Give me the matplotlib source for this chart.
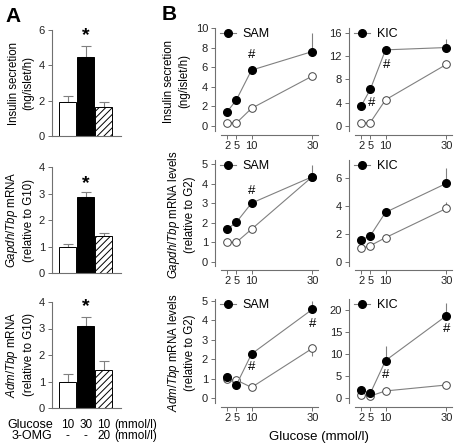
import numpy as np
import matplotlib
matplotlib.use('Agg')
import matplotlib.pyplot as plt

plt.rcParams['font.family'] = ['Liberation Sans', 'DejaVu Sans']
plt.rcParams['mathtext.fontset'] = 'custom'
plt.rcParams['mathtext.rm'] = 'Liberation Sans'
plt.rcParams['mathtext.it'] = 'Liberation Sans:italic'
plt.rcParams['hatch.linewidth'] = 0.7

# ---- panel A data (bars: G10, G30, G10+3-OMG) ----
a_insulin = [1.9, 4.45, 1.65]
a_insulin_err = [0.35, 0.65, 0.28]
a_gapdh = [1.0, 2.85, 1.38]
a_gapdh_err = [0.1, 0.22, 0.12]
a_adm = [1.0, 3.1, 1.42]
a_adm_err = [0.3, 0.35, 0.37]
a_star = [5.7, 3.38, 3.82]
glucose_row = ['10', '30', '10']
omg_row = ['-', '-', '20']

# ---- panel B data ----
glc = [2, 5, 10, 30]
sam_ins_f = [1.45, 2.65, 5.7, 7.6]
sam_ins_f_err = [0, 0.2, 0, 1.9]
sam_ins_o = [0.34, 0.3, 1.8, 5.1]
kic_ins_f = [3.45, 6.3, 13.1, 13.5]
kic_ins_f_err = [0, 0, 0.5, 1.5]
kic_ins_o = [0.46, 0.6, 4.5, 10.6]
sam_gap_f = [1.67, 2.02, 3.0, 4.35]
sam_gap_f_err = [0, 0, 0, 0.6]
sam_gap_o = [1.0, 1.0, 1.67, 4.35]
kic_gap_f = [1.57, 1.88, 3.55, 5.62]
kic_gap_f_err = [0, 0, 0, 1.1]
kic_gap_o = [0.98, 1.17, 1.74, 3.83]
kic_gap_o_err = [0, 0, 0, 0.47]
sam_adm_f = [1.07, 0.67, 2.27, 4.57]
sam_adm_f_err = [0, 0, 0, 0.45]
sam_adm_o = [0.98, 0.93, 0.55, 2.56]
sam_adm_o_err = [0, 0, 0, -0.4]
kic_adm_f = [1.8, 1.06, 8.5, 18.7]
kic_adm_f_err = [0, 0, 3.3, 2.8]
kic_adm_o = [0.7, 0.45, 1.6, 2.95]

W, H = 457, 448
fig = plt.figure(figsize=(W / 100, H / 100), dpi=100)

GRAY = '#808080'
SP = '#707070'


def box(l, t, r, b):
    return [l / W, 1 - b / H, (r - l) / W, (b - t) / H]


def style(ax):
    for s in ['top', 'right']:
        ax.spines[s].set_visible(False)
    for s in ['left', 'bottom']:
        ax.spines[s].set_color(SP)
        ax.spines[s].set_linewidth(0.8)
    ax.tick_params(direction='out', length=3, width=0.7, color=SP,
                   labelsize=8, pad=2, labelcolor='#222222')


# ---- panel A ----
a_sets = [(a_insulin, a_insulin_err, 6, [0, 2, 4, 6], 30, 136,
           'Insulin secretion\n(ng/islet/h)'),
          (a_gapdh, a_gapdh_err, 4, [0, 1, 2, 3, 4], 167, 273,
           '$\\it{Gapdh/Tbp}$ mRNA\n(relative to G10)'),
          (a_adm, a_adm_err, 4, [0, 1, 2, 3, 4], 302, 408,
           '$\\it{Adm/Tbp}$ mRNA\n(relative to G10)')]
xb = np.arange(3)
for i, (vals, err, top, ticks, t, b, lab) in enumerate(a_sets):
    ax = fig.add_axes(box(52, t, 121, b))
    style(ax)
    ax.bar(xb, vals, width=0.95, color=['white', 'black', 'white'],
           edgecolor='black', linewidth=0.7,
           hatch=['', '', '/////'], zorder=2)
    ax.errorbar(xb, vals, yerr=[np.zeros(3), err], fmt='none',
                ecolor=GRAY, elinewidth=0.8, capsize=3.5, capthick=0.8,
                zorder=1)
    ax.text(1, a_star[i], '*', ha='center', va='center', fontsize=14,
            fontweight='bold')
    ax.set_xlim(-0.87, 2.95)
    ax.set_ylim(0, top)
    ax.set_yticks(ticks)
    ax.set_xticks([])
    ax.set_ylabel(lab, fontsize=8.3, labelpad=3, linespacing=1.3)

# treatment table under the last bar panel
row_y = [1 - 425 / H, 1 - 436 / H]
fig.text(53 / W, row_y[0], 'Glucose', ha='right', va='center', fontsize=9)
fig.text(52 / W, row_y[1], '3-OMG', ha='right', va='center', fontsize=9)
for j in range(3):
    px = ax.transData.transform((xb[j], 0))[0] / W
    fig.text(px, row_y[0], glucose_row[j], ha='center', va='center',
             fontsize=8.5)
    fig.text(px, row_y[1], omg_row[j], ha='center', va='center',
             fontsize=8.5)
fig.text(114 / W, row_y[0], '(mmol/l)', ha='left', va='center', fontsize=8.5)
fig.text(114 / W, row_y[1], '(mmol/l)', ha='left', va='center', fontsize=8.5)

fig.text(5 / W, 1 - 17 / H, 'A', fontsize=15, fontweight='bold',
         ha='left', va='center')
fig.text(162 / W, 1 - 15 / H, 'B', fontsize=15, fontweight='bold',
         ha='left', va='center')

# ---- panel B ----
b_rows = [
    (28, 135, 'Insulin secretion\n(ng/islet/h)',
     [(sam_ins_f, sam_ins_f_err, sam_ins_o, None, 'SAM', (-0.92, 10),
       [0, 2, 4, 6, 8, 10], [(10, 7.2)]),
      (kic_ins_f, kic_ins_f_err, kic_ins_o, None, 'KIC', (-1.55, 16.86),
       [0, 4, 8, 12, 16], [(10.2, 10.5), (5.4, 3.9)])]),
    (160, 270, '$\\it{Gapdh/Tbp}$ mRNA levels\n(relative to G2)',
     [(sam_gap_f, sam_gap_f_err, sam_gap_o, None, 'SAM', (-0.41, 5.2),
       [0, 1, 2, 3, 4, 5], [(10, 3.6)]),
      (kic_gap_f, kic_gap_f_err, kic_gap_o, kic_gap_o_err, 'KIC',
       (-0.57, 7.29), [0, 2, 4, 6], [])]),
    (299, 407, '$\\it{Adm/Tbp}$ mRNA levels\n(relative to G2)',
     [(sam_adm_f, sam_adm_f_err, sam_adm_o, sam_adm_o_err, 'SAM',
       (-0.46, 5.1), [0, 1, 2, 3, 4, 5], [(10, 1.58), (30, 3.8)]),
      (kic_adm_f, kic_adm_f_err, kic_adm_o, None, 'KIC', (-2.05, 22.5),
       [0, 5, 10, 15, 20], [(10, 5.2), (30, 15.7)])]),
]
lefts = [215, 349]
for t, b, lab, cols in b_rows:
    for c, (yf, ef, yo, eo, name, yl, ticks, marks) in enumerate(cols):
        ax = fig.add_axes(box(lefts[c], t, lefts[c] + 105, b))
        style(ax)
        ax.set_xlim(-2, 32.5)
        ax.set_ylim(*yl)
        ef = np.array(ef, dtype=float)
        ax.errorbar(glc, yf, yerr=[np.zeros(4), ef], fmt='none',
                    ecolor=GRAY, elinewidth=0.8, zorder=1)
        if eo is not None:
            eo = np.array(eo, dtype=float)
            ax.errorbar(glc, yo, yerr=[np.clip(-eo, 0, None),
                                       np.clip(eo, 0, None)],
                        fmt='none', ecolor=GRAY, elinewidth=0.8, zorder=1)
        ax.plot(glc, yo, '-o', color=GRAY, lw=0.8, ms=5.5, mfc='white',
                mec='#444444', mew=0.7, zorder=2)
        h, = ax.plot(glc, yf, '-o', color=GRAY, lw=0.8, ms=5.5,
                     mfc='black', mec='black', zorder=3)
        for mx, my in marks:
            ax.text(mx, my, '#', ha='center', va='center', fontsize=9.5)
        ax.legend([h], [name], loc='upper left', bbox_to_anchor=(0.0, 1.045),
                  frameon=False, handlelength=1.3, handletextpad=0.5,
                  borderaxespad=0, fontsize=9)
        ax.set_xticks(glc)
        ax.set_xticklabels(['2', '5', '10', '30'])
        ax.set_yticks(ticks)
        ax.spines['bottom'].set_bounds(0, 32)
        ax.spines['left'].set_bounds(yl[0] + (yl[1] - yl[0]) * 0.04, yl[1])
        ax.tick_params(axis='x', pad=1.5)
        if c == 0:
            ax.set_ylabel(lab, fontsize=8.3, labelpad=4, linespacing=1.3)

fig.text(319 / W, 1 - 437 / H, 'Glucose (mmol/l)', ha='center',
         va='center', fontsize=9.5)

fig.savefig('out.png', dpi=100)
